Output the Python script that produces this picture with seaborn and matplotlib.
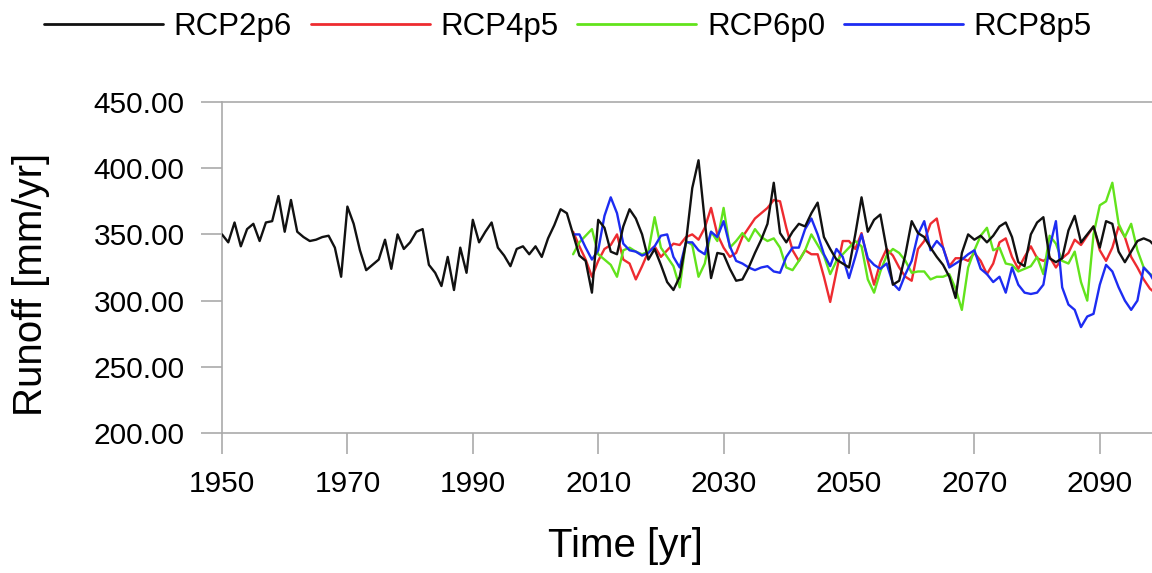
import numpy as np
import pandas as pd
import matplotlib
matplotlib.use("Agg")
import matplotlib.pyplot as plt
import seaborn as sns

# annual runoff [mm/yr]
years_hist = list(range(1950, 2101))
years_proj = list(range(2006, 2101))

rcp26 = [350, 344, 359, 341, 354, 358, 345, 359, 360, 379,
         352, 376, 352, 348, 345, 346, 348, 349, 340, 318,
         371, 358, 338, 323, 327, 331, 346, 324, 350, 339,
         344, 352, 354, 327, 321, 311, 333, 308, 340, 321,
         361, 344, 352, 359, 340, 334, 326, 339, 341, 335,
         341, 333, 347, 357, 369,
         366, 350, 334, 330, 306, 361, 355, 337, 335, 356,
         369, 362, 350, 331, 339, 327, 314, 308, 318, 344,
         385, 406, 360,
         317, 336, 335, 324, 315, 316, 325, 336, 346, 358,
         389, 351, 344, 352, 358, 356, 366, 374, 348, 339,
         331, 328,
         325, 350, 378, 352, 361, 365, 339, 312, 315, 335,
         360, 351, 348, 340, 333, 327, 318, 302, 336, 350,
         346, 349, 344,
         349, 356, 359, 348, 329, 326, 350, 359, 363, 332,
         329, 332, 353, 364, 344, 350, 356, 340, 360, 358,
         337, 329, 337, 345, 347, 345, 340, 338]

rcp45 = [352, 341, 331, 318, 330, 339, 342, 350, 331, 328,
         316, 326, 337, 341, 333, 338, 343, 342, 348, 350,
         346, 355,
         370, 350, 340, 333, 336, 348, 355, 362, 366, 370,
         376, 375, 355, 338, 330, 338, 335, 335, 318, 299,
         322, 345,
         345, 339, 351, 330, 312, 329, 339, 334, 325, 318,
         315, 339, 345, 358, 362, 340, 326, 332, 332, 330,
         336, 330, 320,
         328, 344, 347, 333, 324, 333, 341, 332, 330, 333,
         325, 332, 336, 346, 342, 349, 356, 338, 330, 340,
         356, 348, 333, 325, 316, 309, 305, 312]

rcp60 = [335, 344, 349, 354, 335, 331, 327, 318, 338, 340,
         337, 335, 337, 363, 340, 333, 326, 310, 345, 342,
         318, 328,
         352, 345, 370, 340, 345, 351, 345, 354, 348, 345,
         347, 340, 325, 323, 330, 338, 350, 342, 334, 320,
         330, 335,
         340, 345, 341, 316, 306, 322, 334, 339, 336, 330,
         321, 322, 322, 316, 318, 318, 320, 309, 293, 325,
         338, 349, 355,
         338, 340, 328, 327, 322, 324, 326, 333, 320, 349,
         343, 330, 328, 337, 314, 300, 350, 372, 375, 389,
         358, 348, 358, 338, 325, 320, 318, 320]

rcp85 = [350, 350, 340, 331, 338, 364, 378, 366, 343, 338,
         337, 334, 336, 341, 349, 350, 333, 325, 344, 344,
         338, 335,
         352, 348, 360, 341, 330, 328, 325, 323, 325, 326,
         322, 321, 333, 340, 340, 354, 362, 350, 335, 326,
         339, 333,
         317, 333, 350, 332, 327, 324, 328, 313, 308, 320,
         330, 350, 360, 338, 345, 340, 325, 328, 331, 335,
         338, 324, 320,
         314, 318, 306, 325, 312, 306, 305, 306, 312, 340,
         360, 310, 297, 293, 280, 288, 290, 312, 327, 322,
         310, 300, 293, 300, 325, 320, 312, 315]

scenarios = ["RCP2p6", "RCP4p5", "RCP6p0", "RCP8p5"]
colors = ["#111111", "#ee2b30", "#62e31c", "#1d2cf2"]
y_ticks = [200, 250, 300, 350, 400, 450]
x_ticks = [1950, 1970, 1990, 2010, 2030, 2050, 2070, 2090]

frames = [pd.DataFrame({"year": years_hist, "runoff": rcp26, "scenario": "RCP2p6"})]
for name, vals in zip(scenarios[1:], [rcp45, rcp60, rcp85]):
    frames.append(pd.DataFrame({"year": years_proj, "runoff": vals, "scenario": name}))
df = pd.concat(frames, ignore_index=True)

sns.set_style("white")
plt.rcParams["font.family"] = ["Liberation Sans", "DejaVu Sans"]
plt.rcParams["text.color"] = "black"
plt.rcParams["axes.labelcolor"] = "black"

fig = plt.figure(figsize=(11.52, 5.73), dpi=100)
ax = fig.add_axes([222 / 1152, 1 - 433 / 573, 940.5 / 1152, 331 / 573])

sns.lineplot(data=df, x="year", y="runoff", hue="scenario", hue_order=scenarios,
             palette=colors, linewidth=1.7, ax=ax)
ax.lines[0].set_zorder(3)

ax.set_xlim(1950, 2100)
ax.set_ylim(200, 450)
ax.set_xticks(x_ticks)
ax.set_yticks(y_ticks)
ax.set_yticklabels([f"{v:.2f}" for v in y_ticks])

spine_col = "#aaaaaa"
for side in ["left", "bottom", "top"]:
    ax.spines[side].set_color(spine_col)
    ax.spines[side].set_linewidth(1.2)
ax.spines["right"].set_visible(False)
ax.tick_params(axis="both", direction="out", length=15, width=1.2, color=spine_col,
               labelsize=21.5, labelcolor="black")
ax.tick_params(axis="x", bottom=True, pad=12)
ax.tick_params(axis="y", left=True, pad=12)

ax.set_xlabel("Time [yr]", fontsize=29)
ax.set_ylabel("Runoff [mm/yr]", fontsize=29)
ax.xaxis.set_label_coords((625 - 222) / 940.5, -0.285)
ax.yaxis.set_label_coords(-0.183, 0.45)

handles, labels = ax.get_legend_handles_labels()
ax.get_legend().remove()
leg = fig.legend(handles, labels, loc="center", bbox_to_anchor=(568 / 1152, 0.953),
                 ncol=4, frameon=False, fontsize=22.5, handlelength=3.8,
                 handletextpad=0.35, columnspacing=0.6)
for h in leg.legend_handles:
    h.set_linewidth(2)

fig.savefig("out.png", dpi=100)
